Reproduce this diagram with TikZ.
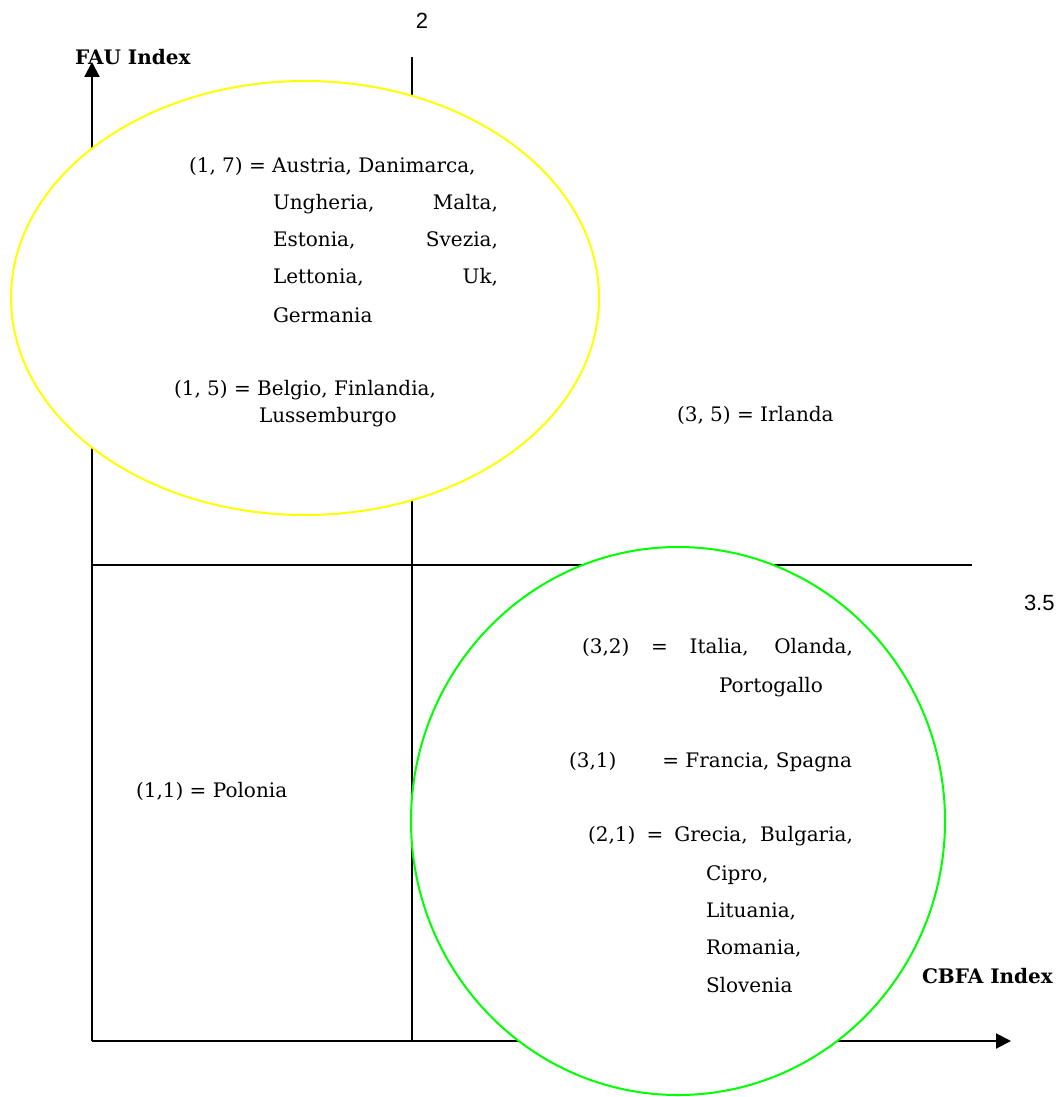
\documentclass[tikz,border=0pt]{standalone}
\usepackage{fontspec}
\setmainfont{DejaVu Serif}
\newfontfamily\numfont{Liberation Sans}
\usepackage{xcolor}
\usepackage{tikz}
\usetikzlibrary{arrows.meta,positioning}
\definecolor{ovalyellow}{HTML}{FFFF00}
\definecolor{ovalgreen}{HTML}{00FF00}

\begin{document}
\begin{tikzpicture}[x=1pt,y=-1pt,line width=2pt,
  country/.style={anchor=west,inner sep=0pt,text height=14.5pt,text depth=4pt,font=\fontsize{20}{24}\selectfont},
  axislbl/.style={country,font=\fontsize{20}{24}\selectfont\bfseries},
  tickval/.style={inner sep=0pt,font=\numfont\fontsize{22}{26}\selectfont},
  axisarrow/.style={-{Triangle[length=15pt,width=15pt]}},
  oval/.style={fill=white,line width=2pt}]
  \useasboundingbox (0,0) rectangle (1059,1097);
  % axes and the two split lines
  \coordinate (origin) at (92,1041);
  \coordinate (ytip) at (92,62);
  \coordinate (xtip) at (1011,1041);
  \coordinate (midtop) at (412,57);
  \coordinate (midbot) at (412,1041);
  \coordinate (hleft) at (92,565);
  \coordinate (hright) at (972,565);
  \draw[axisarrow] (origin) -- (ytip);
  \draw[axisarrow] (origin) -- (xtip);
  \draw (midbot) -- (midtop);
  \draw (hleft) -- (hright);
  % the two groups
  \draw[oval,draw=ovalyellow] (305,298) ellipse [x radius=294pt,y radius=217pt];
  \draw[oval,draw=ovalgreen] (678,821) ellipse [x radius=267pt,y radius=274pt];
  % scale values and axis names
  \node[tickval] (two) at (422,21) {2};
  \node[tickval,anchor=west] (threefive) at (1023,603) {3.5};
  \node[axislbl] (fau) at (74,59) {FAU Index};
  \node[axislbl] (cbfa) at (921,978) {CBFA Index};
  % yellow group
  \node[country] (g17) at (188,167) {(1, 7) = Austria, Danimarca,};
  \node[country] (g17a) at (272,204) {\makebox[225pt][s]{Ungheria, Malta,}};
  \node[country] (g17b) at (272,241) {\makebox[225pt][s]{Estonia, Svezia,}};
  \node[country] (g17c) at (272,278) {\makebox[225pt][s]{Lettonia, Uk,}};
  \node[country] (g17d) at (272,317) {Germania};
  \node[country] (g15) at (173,390) {(1, 5) = Belgio, Finlandia,};
  \node[country] (g15a) at (258,417) {Lussemburgo};
  \node[country] (g35) at (676,416) {(3, 5) = Irlanda};
  \node[country] (g11) at (135,792) {(1,1) = Polonia};
  % green group
  \node[country] (g32) at (581,648) {\makebox[271pt][s]{(3,2) = Italia, Olanda,}};
  \node[country] (g32a) at (718,687) {Portogallo};
  \node[country] (g31) at (568,762) {\makebox[283pt]{(3,1)\hfill= Francia, Spagna}};
  \node[country] (g21) at (587,836) {\makebox[265pt][s]{(2,1) = Grecia, Bulgaria,}};
  \node[country] (g21a) at (705,875) {Cipro,};
  \node[country] (g21b) at (705,912) {Lituania,};
  \node[country] (g21c) at (705,949) {Romania,};
  \node[country] (g21d) at (705,987) {Slovenia};
\end{tikzpicture}
\end{document}
